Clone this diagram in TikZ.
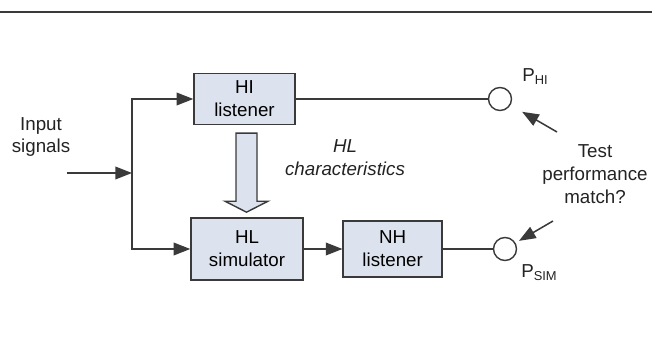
\documentclass[tikz,border=0pt]{standalone}
\usepackage{fontspec}
\setmainfont{Liberation Sans}
\usepackage{tikz}
\usepackage{xcolor}
\usetikzlibrary{arrows.meta,calc,positioning,shapes}
\definecolor{boxfill}{RGB}{221,227,238}
\definecolor{linegray}{RGB}{58,58,58}
\definecolor{textgray}{RGB}{35,35,35}
\newcommand{\psub}[1]{\raisebox{-0.3ex}{\fontsize{11}{11}\selectfont #1}}
\tikzset{%
	block/.style    = {draw=linegray, rectangle, fill=boxfill, line width=1.2pt, align=center, inner sep=0pt},
	junction/.style = {draw=linegray, circle, fill=white, line width=1.2pt, minimum size=0.69cm, inner sep=0pt}, % Output point
	label/.style    = {text=textgray, align=center, inner sep=0pt},
	waypoint/.style = {coordinate},
	arrow/.style    = {line width=1.3pt, draw=linegray, -{Triangle[length=0.5cm,width=0.38cm]}},
	wire/.style     = {line width=1.3pt, draw=linegray},
	fatarrow/.style = {draw=linegray, fill=boxfill, line width=1.2pt, line join=miter},
}

\begin{document}
\begin{tikzpicture}[x=0.03cm, y=-0.03cm, node distance = 4.37cm, font=\fontsize{16}{19.5}\selectfont]
	\useasboundingbox (0,0) rectangle (652,345);
	\coordinate (rl) at (0,12);
	\coordinate (rr) at (652,12);
	\draw[line width=1.2pt, draw=linegray] (rl) -- (rr);

	\node[block, minimum width=3.03cm, minimum height=1.53cm] (hi) at (244.5,99) {HI\\listener};
	\node[block, minimum width=3.36cm, minimum height=1.86cm] (hl) at (247,249) {HL\\simulator};
	\node[block, right of=hl, minimum width=2.97cm, minimum height=1.68cm] (nh) {NH\\listener};
	\node[junction] (phi) at (500,99) {};
	\node[junction] (psim) at (505,249) {};

	\node[label] (sig) at (41,137) {Input\\signals};
	\node[label, font=\fontsize{16}{19.5}\selectfont\itshape] (hlc) at (345,158) {HL\\characteristics};
	\node[label] (test) at (595,174) {Test\\performance\\match?};
	\node[label] (phil) at (535,77) {P\psub{HI}};
	\node[label] (psiml) at (539,273) {P\psub{SIM}};

	\coordinate (in) at (67,173);
	\coordinate (split) at (132,173);
	\coordinate (ta) at (557,132);
	\coordinate (tb) at (553,221);

	\draw[arrow] (in) -- (split);
	\draw[arrow] (split) |- (hi);
	\draw[arrow] (split) |- (hl);
	\draw[arrow] (hl) -- (nh);
	\draw[wire] (hi) -- (phi);
	\draw[wire] (nh) -- (psim);
	\draw[arrow, shorten >=0.4cm] (ta) -- (phi);
	\draw[arrow, shorten >=0.12cm] (tb) -- (psim);

	\draw[fatarrow] ($(hi.south)+(-8.5,8)$) -- ++(21,0) -- ++(0,68) -- ++(11,0) -- ++(-21.5,11) -- ++(-21.5,-11) -- ++(11,0) -- cycle;
\end{tikzpicture}
\end{document}
